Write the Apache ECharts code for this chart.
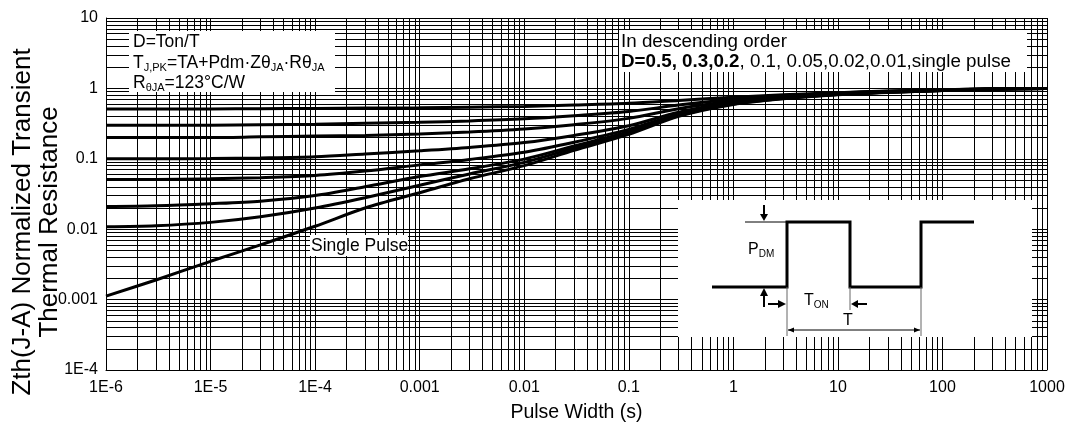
<!DOCTYPE html>
<html>
<head>
<meta charset="utf-8">
<script src="https://cdn.jsdelivr.net/npm/echarts@6/dist/echarts.min.js"></script>
<style>html,body{margin:0;padding:0;background:#fff;}#c{width:1071px;height:432px;}</style>
</head>
<body>
<div id="c"></div>
<script>
// ---- data ----
var xTickLabels = ['1E-6','1E-5','1E-4','0.001','0.01','0.1','1','10','100','1000'];
var yTickLabels = ['1E-4','0.001','0.01','0.1','1','10'];
var pulseWidth = [1e-6, 3e-6, 1e-5, 3e-5, 1e-4, 3e-4, 1e-3, 3e-3, 1e-2, 3e-2, 0.1, 0.3, 1, 3, 10, 30, 100, 300, 1000];
var zD050 = [0.51, 0.51, 0.51, 0.515, 0.52, 0.525, 0.53, 0.54, 0.555, 0.58, 0.615, 0.675, 0.75, 0.81, 0.87, 0.915, 0.955, 0.985, 1.0];
var zD030 = [0.30, 0.30, 0.30, 0.305, 0.31, 0.32, 0.33, 0.345, 0.37, 0.41, 0.47, 0.58, 0.70, 0.79, 0.86, 0.91, 0.95, 0.985, 1.0];
var zD020 = [0.20, 0.20, 0.20, 0.205, 0.21, 0.215, 0.225, 0.24, 0.265, 0.305, 0.375, 0.515, 0.66, 0.77, 0.85, 0.905, 0.945, 0.98, 1.0];
var zD010 = [0.10, 0.10, 0.101, 0.103, 0.107, 0.117, 0.13, 0.145, 0.17, 0.215, 0.295, 0.46, 0.63, 0.75, 0.84, 0.895, 0.94, 0.98, 1.0];
var zD005 = [0.051, 0.051, 0.052, 0.054, 0.058, 0.067, 0.082, 0.098, 0.124, 0.172, 0.262, 0.43, 0.62, 0.74, 0.83, 0.89, 0.935, 0.98, 1.0];
var zD002 = [0.021, 0.0215, 0.023, 0.025, 0.03, 0.04, 0.056, 0.072, 0.099, 0.152, 0.242, 0.42, 0.61, 0.73, 0.82, 0.885, 0.93, 0.975, 1.0];
var zD001 = [0.0108, 0.0112, 0.0125, 0.015, 0.02, 0.028, 0.042, 0.061, 0.089, 0.142, 0.232, 0.41, 0.60, 0.72, 0.82, 0.88, 0.93, 0.975, 1.0];
var zSingle = [0.00112, 0.0019, 0.0035, 0.006, 0.011, 0.02, 0.033, 0.052, 0.08, 0.132, 0.222, 0.40, 0.59, 0.71, 0.81, 0.875, 0.93, 0.975, 1.0];
var curves = [zD050, zD030, zD020, zD010, zD005, zD002, zD001, zSingle];
var curveNames = ['D=0.5','D=0.3','D=0.2','D=0.1','D=0.05','D=0.02','D=0.01','Single Pulse'];

// ---- helpers ----
var FONT = '"Liberation Sans", Arial, sans-serif';
var xMinExp = -6, xMaxExp = 3, yMinExp = -4, yMaxExp = 1;
var xMin = Math.pow(10, xMinExp), xMax = Math.pow(10, xMaxExp);
var yMin = Math.pow(10, yMinExp), yMax = Math.pow(10, yMaxExp);
function gridValues(e0, e1) {
  var out = [];
  for (var e = e0; e < e1; e++) {
    for (var k = 1; k <= 9; k++) out.push(k * Math.pow(10, e));
  }
  out.push(Math.pow(10, e1));
  return out;
}
var gridLines = [];
gridValues(xMinExp, xMaxExp).forEach(function (v) { gridLines.push([{ coord: [v, yMin] }, { coord: [v, yMax] }]); });
gridValues(yMinExp, yMaxExp).forEach(function (v) { gridLines.push([{ coord: [xMin, v] }, { coord: [xMax, v] }]); });

function pairs(ys) { return pulseWidth.map(function (x, i) { return [x, ys[i]]; }); }

var series = [{
  type: 'line', name: 'grid', data: [[xMin, yMin]], symbol: 'none', silent: true, z: 1,
  lineStyle: { opacity: 0 },
  markLine: {
    silent: true, symbol: 'none', animation: false,
    label: { show: false },
    lineStyle: { color: '#000', width: 1, type: 'solid' },
    emphasis: { disabled: true },
    data: gridLines
  }
}];
curves.forEach(function (c, i) {
  series.push({
    type: 'line', name: curveNames[i], data: pairs(c), symbol: 'none', smooth: 0.3,
    z: 3, lineStyle: { color: '#000', width: 3 }, silent: true
  });
});

function sub(t) { return '{s|' + t + '}'; }
var richBase = {
  m: { fontSize: 17.5, fontFamily: FONT, lineHeight: 20, fill: '#000' },
  s: { fontSize: 11, fontFamily: FONT, lineHeight: 11, verticalAlign: 'bottom', fill: '#000' }
};
var richRight = {
  m: { fontSize: 18.8, fontFamily: FONT, lineHeight: 21, fill: '#000' },
  b: { fontSize: 18.8, fontFamily: FONT, lineHeight: 21, fontWeight: 'bold', fill: '#000' }
};
var insetRich = {
  m: { fontSize: 16, fontFamily: FONT, lineHeight: 18, fill: '#000' },
  s: { fontSize: 10, fontFamily: FONT, lineHeight: 10, verticalAlign: 'bottom', fill: '#000' }
};

var graphics = [
  // left annotation box
  { type: 'rect', shape: { x: 129, y: 31, width: 206, height: 61 }, style: { fill: '#fff' }, z: 50, silent: true },
  { type: 'text', z: 60, style: { x: 133, y: 42, text: '{m|D=Ton/T}', rich: richBase, verticalAlign: 'middle' } },
  { type: 'text', z: 60, style: { x: 133, y: 63, text: '{m|T}' + sub('J,PK') + '{m|=TA+Pdm·Zθ}' + sub('JA') + '{m|·Rθ}' + sub('JA'), rich: richBase, verticalAlign: 'middle' } },
  { type: 'text', z: 60, style: { x: 133, y: 83, text: '{m|R}' + sub('θJA') + '{m|=123°C/W}', rich: richBase, verticalAlign: 'middle' } },
  // right annotation box
  { type: 'rect', shape: { x: 619, y: 30, width: 408, height: 42 }, style: { fill: '#fff' }, z: 50, silent: true },
  { type: 'text', z: 60, style: { x: 621, y: 42, text: '{m|In descending order}', rich: richRight, verticalAlign: 'middle' } },
  { type: 'text', z: 60, style: { x: 621, y: 62, text: '{b|D=0.5, 0.3,0.2}{m|, 0.1, 0.05,0.02,0.01,single pulse}', rich: richRight, verticalAlign: 'middle' } },
  // single pulse label
  { type: 'rect', shape: { x: 310, y: 235, width: 98, height: 21 }, style: { fill: '#fff' }, z: 50, silent: true },
  { type: 'text', z: 60, style: { x: 311, y: 246, text: '{m|Single Pulse}', rich: richBase, verticalAlign: 'middle' } },
  // inset
  { type: 'rect', shape: { x: 678, y: 200, width: 354, height: 137 }, style: { fill: '#fff' }, z: 50, silent: true },
  { type: 'polyline', z: 60, silent: true, shape: { points: [[712,287],[787,287],[787,222],[850,222],[850,287],[921,287],[921,222],[974,222]] }, style: { stroke: '#000', lineWidth: 3, fill: null } },
  { type: 'line', z: 60, silent: true, shape: { x1: 745, y1: 222, x2: 787, y2: 222 }, style: { stroke: '#000', lineWidth: 1 } },
  { type: 'line', z: 60, silent: true, shape: { x1: 764, y1: 205, x2: 764, y2: 215 }, style: { stroke: '#000', lineWidth: 2 } },
  { type: 'polygon', z: 60, silent: true, shape: { points: [[760,214],[768,214],[764,221]] }, style: { fill: '#000' } },
  { type: 'line', z: 60, silent: true, shape: { x1: 764, y1: 295, x2: 764, y2: 307 }, style: { stroke: '#000', lineWidth: 2 } },
  { type: 'polygon', z: 60, silent: true, shape: { points: [[760,296],[768,296],[764,288]] }, style: { fill: '#000' } },
  { type: 'line', z: 60, silent: true, shape: { x1: 787, y1: 287, x2: 787, y2: 336 }, style: { stroke: '#666', lineWidth: 1 } },
  { type: 'line', z: 60, silent: true, shape: { x1: 850, y1: 287, x2: 850, y2: 310 }, style: { stroke: '#666', lineWidth: 1 } },
  { type: 'line', z: 60, silent: true, shape: { x1: 921, y1: 287, x2: 921, y2: 336 }, style: { stroke: '#666', lineWidth: 1 } },
  { type: 'line', z: 60, silent: true, shape: { x1: 768, y1: 304, x2: 779, y2: 304 }, style: { stroke: '#000', lineWidth: 2 } },
  { type: 'polygon', z: 60, silent: true, shape: { points: [[778,300],[778,308],[786,304]] }, style: { fill: '#000' } },
  { type: 'line', z: 60, silent: true, shape: { x1: 857, y1: 304, x2: 867, y2: 304 }, style: { stroke: '#000', lineWidth: 2 } },
  { type: 'polygon', z: 60, silent: true, shape: { points: [[858,300],[858,308],[851,304]] }, style: { fill: '#000' } },
  { type: 'line', z: 60, silent: true, shape: { x1: 788, y1: 330, x2: 920, y2: 330 }, style: { stroke: '#000', lineWidth: 1 } },
  { type: 'polygon', z: 60, silent: true, shape: { points: [[788,330],[794,327.5],[794,332.5]] }, style: { fill: '#000' } },
  { type: 'polygon', z: 60, silent: true, shape: { points: [[920,330],[914,327.5],[914,332.5]] }, style: { fill: '#000' } },
  { type: 'text', z: 60, style: { x: 748, y: 250, text: '{m|P}{s|DM}', rich: insetRich, verticalAlign: 'middle' } },
  { type: 'text', z: 60, style: { x: 804, y: 301, text: '{m|T}{s|ON}', rich: insetRich, verticalAlign: 'middle' } },
  { type: 'text', z: 60, style: { x: 848, y: 321, text: 'T', fontSize: 16, fontFamily: FONT, fill: '#000', align: 'center', verticalAlign: 'middle' } }
];

var chart = echarts.init(document.getElementById('c'), null, { renderer: 'canvas' });
chart.setOption({
  animation: false,
  backgroundColor: '#fff',
  grid: { left: 106, right: 24, top: 18, bottom: 62, containLabel: false, outerBoundsMode: 'none' },
  xAxis: {
    type: 'log', logBase: 10, min: xMin, max: xMax, interval: 1, splitNumber: 9,
    axisLine: { show: true, lineStyle: { color: '#000', width: 1 } },
    axisTick: { show: false }, splitLine: { show: false },
    axisLabel: { color: '#000', fontSize: 16, fontFamily: FONT, margin: 10, hideOverlap: false,
      formatter: function (v) { return xTickLabels[Math.round(Math.log10(v)) - xMinExp]; } },
    name: 'Pulse Width (s)', nameLocation: 'middle', nameGap: 33, nameMoveOverlap: false,
    nameTextStyle: { color: '#000', fontSize: 19.5, fontFamily: FONT }
  },
  yAxis: {
    type: 'log', logBase: 10, min: yMin, max: yMax, interval: 1, splitNumber: 5,
    axisLine: { show: true, lineStyle: { color: '#000', width: 1 } },
    axisTick: { show: false }, splitLine: { show: false },
    axisLabel: { color: '#000', fontSize: 16, fontFamily: FONT, margin: 8,
      formatter: function (v) { return yTickLabels[Math.round(Math.log10(v)) - yMinExp]; } },
    name: 'Zth(J-A) Normalized Transient\nThermal Resistance', nameLocation: 'middle', nameGap: 43, nameMoveOverlap: false,
    nameTextStyle: { color: '#000', fontSize: 26, fontFamily: FONT, lineHeight: 27, padding: [0, 56, 0, 0] }
  },
  series: series,
  graphic: graphics
});
</script>
</body>
</html>
